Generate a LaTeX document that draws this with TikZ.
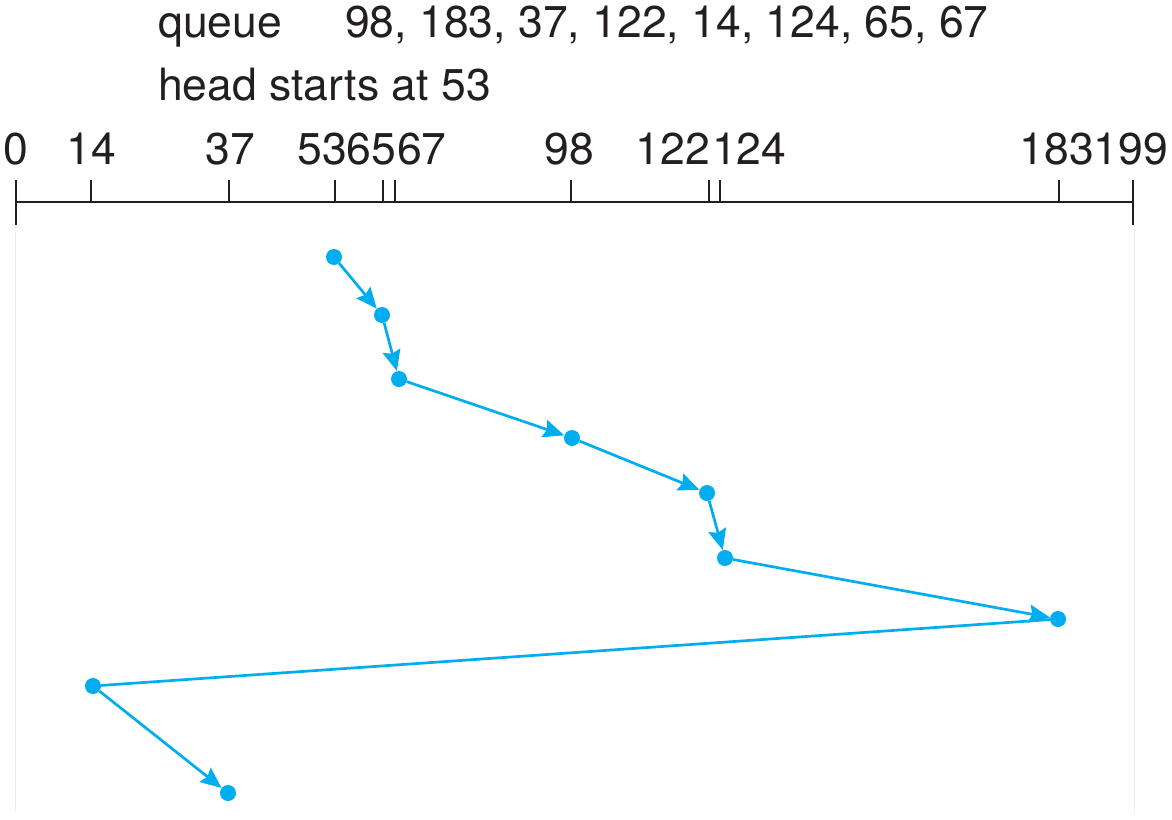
\documentclass[tikz,border=0pt]{standalone}
\usepackage{fontspec}
\setmainfont{TeX Gyre Heros}
\usetikzlibrary{arrows.meta}
\definecolor{cy}{RGB}{0,174,239}
\definecolor{ink}{RGB}{35,31,32}
\begin{document}
\begin{tikzpicture}[x=1pt,y=-1pt,
 dot/.style={circle,fill=cy,inner sep=0pt,minimum size=16pt},
 seek/.style={cy,line width=2.7pt},
 arr/.style={seek,-{Stealth[length=21pt,width=18pt,inset=3pt]}},
 lbl/.style={font=\fontsize{44.5}{53}\selectfont,text=ink,inner sep=0pt},
 axisline/.style={ink,line width=1.8pt},
 faint/.style={black!7,line width=1pt}]
\useasboundingbox (0,0) rectangle (1172,819);
% header text
\node[lbl,anchor=base west] (q) at (158,37) {queue};
\node[lbl,anchor=base west] (ql) at (345,37) {98, 183, 37, 122, 14, 124, 65, 67};
\node[lbl,anchor=base west] (hd) at (158,100) {head starts at 53};
% faint frame lines
\draw[faint] (15,225) -- (15,812);
\draw[faint] (1134,225) -- (1134,813);
% axis
\draw[axisline] (16,202) -- (1133,202);
\draw[axisline] (16,180) -- (16,225);
\draw[axisline] (1133,180) -- (1133,225);
\foreach \x in {91,229,335,383,395,571,709,720,1059}
  \draw[axisline] (\x,180) -- (\x,202);
% axis labels
\node[lbl,anchor=base] (l0) at (16,164) {0};
\node[lbl,anchor=base] (l14) at (91,164) {14};
\node[lbl,anchor=base] (l37) at (230,164) {37};
\node[lbl,anchor=base east] (l53) at (347,164) {53};
\node[lbl,anchor=base] (l65) at (371,164) {65};
\node[lbl,anchor=base west] (l67) at (397,164) {67};
\node[lbl,anchor=base] (l98) at (569,164) {98};
\node[lbl,anchor=base east] (l122) at (710,164) {122};
\node[lbl,anchor=base west] (l124) at (712,164) {124};
\node[lbl,anchor=base] (l183) at (1057,164) {183};
\node[lbl,anchor=base] (l199) at (1131,164) {199};
% request dots
\node[dot] (p53) at (334,257) {};
\node[dot] (p65) at (382,315) {};
\node[dot] (p67) at (399,379) {};
\node[dot] (p98) at (572,438) {};
\node[dot] (p122) at (707,493) {};
\node[dot] (p124) at (725,558) {};
\node[dot] (p183) at (1058,619) {};
\node[dot] (p14) at (93,686) {};
\node[dot] (p37) at (228,793) {};
% seek path
\draw[arr] (p53) -- (p65);
\draw[arr] (p65) -- (p67);
\draw[arr] (p67) -- (p98);
\draw[arr] (p98) -- (p122);
\draw[arr] (p122) -- (p124);
\draw[arr] (p124) -- (p183);
\draw[seek] (p183) -- (p14);
\draw[arr] (p14) -- (p37);
\end{tikzpicture}
\end{document}
